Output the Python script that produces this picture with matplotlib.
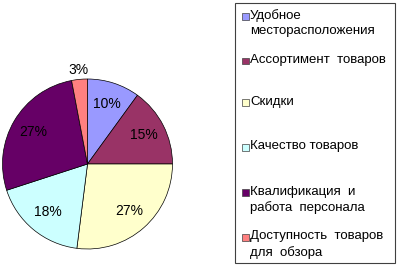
import numpy as np
import matplotlib
matplotlib.use("Agg")
import matplotlib.pyplot as plt
from matplotlib.patches import Rectangle

plt.rcParams['font.family'] = ['Liberation Sans', 'DejaVu Sans']

labels = ["Удобное\nместорасположения", "Ассортимент  товаров", "Скидки",
          "Качество товаров", "Квалификация  и\nработа  персонала",
          "Доступность  товаров\nдля  обзора"]
shares = [10, 15, 27, 18, 27, 3]
colors = ["#9999FF", "#993366", "#FFFFCC", "#CCFFFF", "#660066", "#FF8080"]

W, H = 399, 266
fig = plt.figure(figsize=(W / 100, H / 100), dpi=100)

# pie area
ax = fig.add_axes([2.5 / W, 17 / H, 170 / W, 170 / H])
wedges, _ = ax.pie(shares, colors=colors, startangle=90, counterclock=False,
                   radius=1, wedgeprops=dict(edgecolor="black", linewidth=0.5))
ax.set_xlim(-1, 1)
ax.set_ylim(-1, 1)
ax.set_aspect('equal')
ax.axis('off')

for w, v in zip(wedges, shares):
    ang = np.deg2rad((w.theta1 + w.theta2) / 2)
    r = 1.11 if v < 5 else 0.74
    ax.text(r * np.cos(ang), r * np.sin(ang), f"{v}%", ha='center', va='center',
            fontsize=10, color='black', clip_on=False)

# legend box
fig.patches.append(Rectangle((235 / W, 3 / H), 160 / W, 260 / H, transform=fig.transFigure,
                             facecolor='white', edgecolor='#404040', linewidth=0.8))
first_line_y = [16, 61, 102, 147, 192, 237]
for lab, c, y in zip(labels, colors, first_line_y):
    fig.patches.append(Rectangle((242 / W, (H - y - 3.5) / H), 6.5 / W, 6.5 / H,
                                 transform=fig.transFigure, facecolor=c,
                                 edgecolor='#404040', linewidth=0.5))
    fig.text(250 / W, (H - y + 6.5) / H, lab, ha='left', va='top', fontsize=9.5,
             linespacing=1.32)

fig.savefig("out.png", dpi=100)
